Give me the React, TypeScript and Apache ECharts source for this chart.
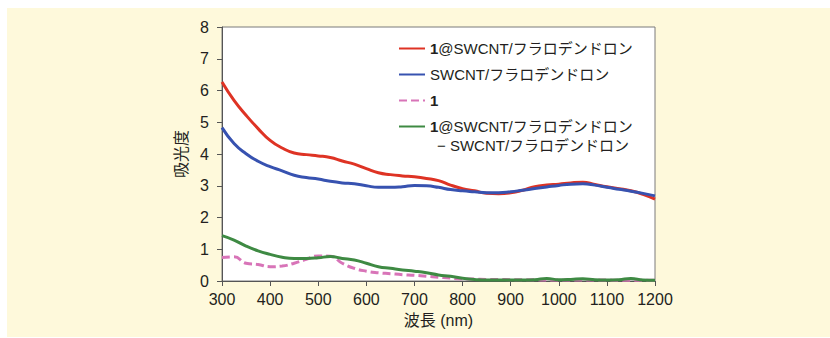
import React, { useEffect, useRef } from "react";
import * as echarts from "echarts";

const wavelengths = [
  300, 325, 350, 375, 400, 425, 450, 475, 500, 525, 550, 575, 600, 625, 650, 675, 700, 725, 750,
  775, 800, 825, 850, 875, 900, 925, 950, 975, 1000, 1025, 1050, 1075, 1100, 1125, 1150, 1175, 1200,
];

const composite = [
  6.27, 5.69, 5.22, 4.8, 4.43, 4.19, 4.03, 3.98, 3.94, 3.89, 3.78, 3.68, 3.54, 3.41, 3.35, 3.31, 3.28,
  3.23, 3.16, 3.02, 2.91, 2.84, 2.76, 2.75, 2.78, 2.86, 2.97, 3.02, 3.05, 3.09, 3.11, 3.04, 2.97,
  2.91, 2.84, 2.73, 2.58,
];

const swcnt = [
  4.83, 4.33, 4.01, 3.77, 3.6, 3.47, 3.33, 3.26, 3.21, 3.14, 3.09, 3.06, 3.0, 2.95, 2.95, 2.97, 3.01,
  3.0, 2.95, 2.88, 2.84, 2.81, 2.78, 2.78, 2.81, 2.86, 2.91, 2.96, 3.01, 3.05, 3.06, 3.02, 2.95, 2.89,
  2.83, 2.76, 2.68,
];

const compound1 = [
  0.74, 0.76, 0.56, 0.52, 0.45, 0.47, 0.56, 0.68, 0.79, 0.78, 0.56, 0.4, 0.31, 0.26, 0.23, 0.2, 0.18,
  0.15, 0.12, 0.09, 0.07, 0.06, 0.05, 0.05, 0.04, 0.04, 0.04, 0.03, 0.03, 0.03, 0.03, 0.03, 0.03, 0.02,
  0.02, 0.02, 0.02,
];

const difference = [
  1.43, 1.29, 1.1, 0.95, 0.84, 0.75, 0.71, 0.71, 0.73, 0.77, 0.71, 0.66, 0.56, 0.45, 0.4, 0.35, 0.31,
  0.26, 0.19, 0.15, 0.09, 0.05, 0.03, 0.03, 0.03, 0.03, 0.04, 0.08, 0.04, 0.05, 0.07, 0.04, 0.03, 0.04,
  0.08, 0.03, 0.02,
];

const yTicks = [0, 1, 2, 3, 4, 5, 6, 7, 8];
const xTicks = [300, 400, 500, 600, 700, 800, 900, 1000, 1100, 1200];

const seriesNames = [
  "1@SWCNT/フラロデンドロン",
  "SWCNT/フラロデンドロン",
  "1",
  "1@SWCNT/フラロデンドロン − SWCNT/フラロデンドロン",
];

const FONT = "'Liberation Sans', Arial, 'Noto Sans CJK JP', sans-serif";
const TEXT = "#231f20";

export default function App() {
  const ref = useRef<HTMLDivElement>(null);

  useEffect(() => {
    if (!ref.current) return;
    const chart = echarts.init(ref.current, undefined, { renderer: "svg" });
    const pair = (vals: number[]) => wavelengths.map((w, i) => [w, vals[i]]);
    const mk = (name: string, vals: number[], color: string, type: any = "solid") => ({
      name,
      type: "line",
      data: pair(vals),
      smooth: true,
      showSymbol: false,
      symbol: "none",
      lineStyle: { color, width: 3, type },
      itemStyle: { color },
    });
    chart.setOption({
      animation: false,
      backgroundColor: "#ffffff",
      textStyle: { fontFamily: FONT, color: TEXT },
      graphic: [
        {
          type: "rect",
          z: -10,
          silent: true,
          shape: { x: 7, y: 8, width: 823, height: 329 },
          style: { fill: "#fef9db" },
        },
        {
          type: "text",
          z: 10,
          x: 437,
          y: 145,
          style: {
            text: "− SWCNT/フラロデンドロン",
            font: `15px ${FONT}`,
            fill: TEXT,
            verticalAlign: "middle",
          },
        },
      ],
      grid: {
        left: 222,
        right: 175,
        top: 27,
        bottom: 57,
        show: true,
        backgroundColor: "#ffffff",
        borderColor: "#7a7a7a",
        borderWidth: 1,
      },
      legend: {
        orient: "vertical",
        left: 393,
        top: 36,
        itemWidth: 26,
        itemHeight: 14,
        itemGap: 11,
        itemTextGap: 8,
        itemStyle: { opacity: 0 },
        data: seriesNames,
        formatter: (name: string) => {
          const first = name.split(" − ")[0];
          if (first.startsWith("1")) return `{b|1}{n|${first.slice(1)}}`;
          return `{n|${first}}`;
        },
        textStyle: {
          fontSize: 15,
          color: TEXT,
          fontFamily: FONT,
          rich: {
            b: { fontWeight: "bold", fontSize: 15, fontFamily: FONT, color: TEXT },
            n: { fontSize: 15, fontFamily: FONT, color: TEXT },
          },
        },
      },
      xAxis: {
        type: "value",
        min: xTicks[0],
        max: xTicks[xTicks.length - 1],
        interval: 100,
        name: "波長 (nm)",
        nameLocation: "middle",
        nameGap: 31,
        nameTextStyle: { fontSize: 16, color: TEXT, fontFamily: FONT },
        axisLine: { show: true, lineStyle: { color: "#555", width: 1 } },
        axisTick: { show: true, length: 5, inside: false, lineStyle: { color: "#555" } },
        axisLabel: {
          fontSize: 16,
          color: TEXT,
          margin: 10,
          fontFamily: FONT,
          formatter: (v: number) => String(v),
        },
        splitLine: { show: false },
      },
      yAxis: {
        type: "value",
        min: yTicks[0],
        max: yTicks[yTicks.length - 1],
        interval: 1,
        name: "吸光度",
        nameLocation: "middle",
        nameRotate: 90,
        nameGap: 33,
        nameTextStyle: { fontSize: 16, color: TEXT, fontFamily: FONT },
        axisLine: { show: true, lineStyle: { color: "#555", width: 1 } },
        axisTick: { show: true, length: 5, inside: false, lineStyle: { color: "#555" } },
        axisLabel: { fontSize: 16, color: TEXT, margin: 13, fontFamily: FONT },
        splitLine: { show: false },
      },
      series: [
        mk(seriesNames[0], composite, "#de3324"),
        mk(seriesNames[1], swcnt, "#3752b0"),
        mk(seriesNames[2], compound1, "#d874b8", [8, 4]),
        mk(seriesNames[3], difference, "#3e8a43"),
      ],
    });
    return () => chart.dispose();
  }, []);

  return (
    <div
      ref={ref}
      style={{ position: "fixed", left: 0, top: 0, width: 830, height: 338 }}
    />
  );
}
